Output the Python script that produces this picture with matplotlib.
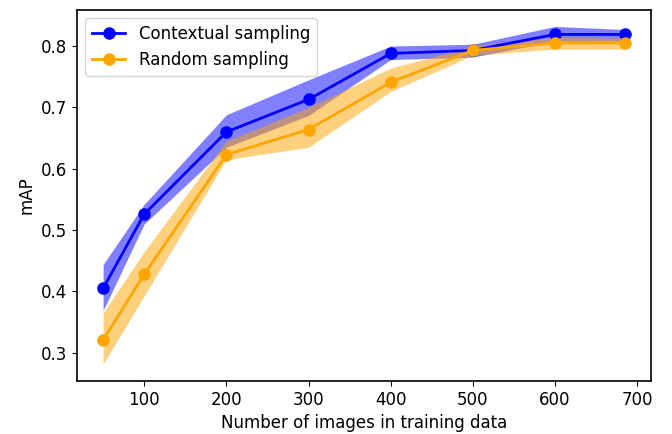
import numpy as np
import matplotlib
matplotlib.use("Agg")
import matplotlib.pyplot as plt

# training set sizes
n_images = [50, 100, 200, 300, 400, 500, 600, 685]

# contextual sampling: mean mAP and band
ctx_mean = [0.405, 0.526, 0.660, 0.713, 0.788, 0.793, 0.819, 0.819]
ctx_low = [0.369, 0.510, 0.635, 0.687, 0.778, 0.782, 0.808, 0.808]
ctx_high = [0.444, 0.542, 0.688, 0.745, 0.800, 0.803, 0.832, 0.827]

# random sampling: mean mAP and band
rnd_mean = [0.321, 0.428, 0.623, 0.664, 0.741, 0.793, 0.805, 0.805]
rnd_low = [0.2815, 0.393, 0.615, 0.635, 0.726, 0.785, 0.795, 0.795]
rnd_high = [0.365, 0.465, 0.645, 0.700, 0.764, 0.800, 0.814, 0.813]

plt.rcParams["font.size"] = 12

fig = plt.figure(figsize=(6.72, 4.34), dpi=100)
ax = fig.add_axes([0.1146, 0.122, 0.8542, 0.856])

ax.plot(n_images, ctx_mean, "o-", color="blue", linewidth=2, markersize=8, label="Contextual sampling")
ax.fill_between(n_images, ctx_low, ctx_high, color="blue", alpha=0.5, linewidth=0)
ax.plot(n_images, rnd_mean, "o-", color="orange", linewidth=2, markersize=8, label="Random sampling")
ax.fill_between(n_images, rnd_low, rnd_high, color="orange", alpha=0.5, linewidth=0)

ax.set_xlabel("Number of images in training data")
ax.set_ylabel("mAP")
ax.set_yticks([0.3, 0.4, 0.5, 0.6, 0.7, 0.8])
ax.set_xticks([100, 200, 300, 400, 500, 600, 700])
for side in ax.spines.values():
    side.set_linewidth(1.2)
ax.legend(loc="upper left")

fig.savefig("out.png", dpi=100)
